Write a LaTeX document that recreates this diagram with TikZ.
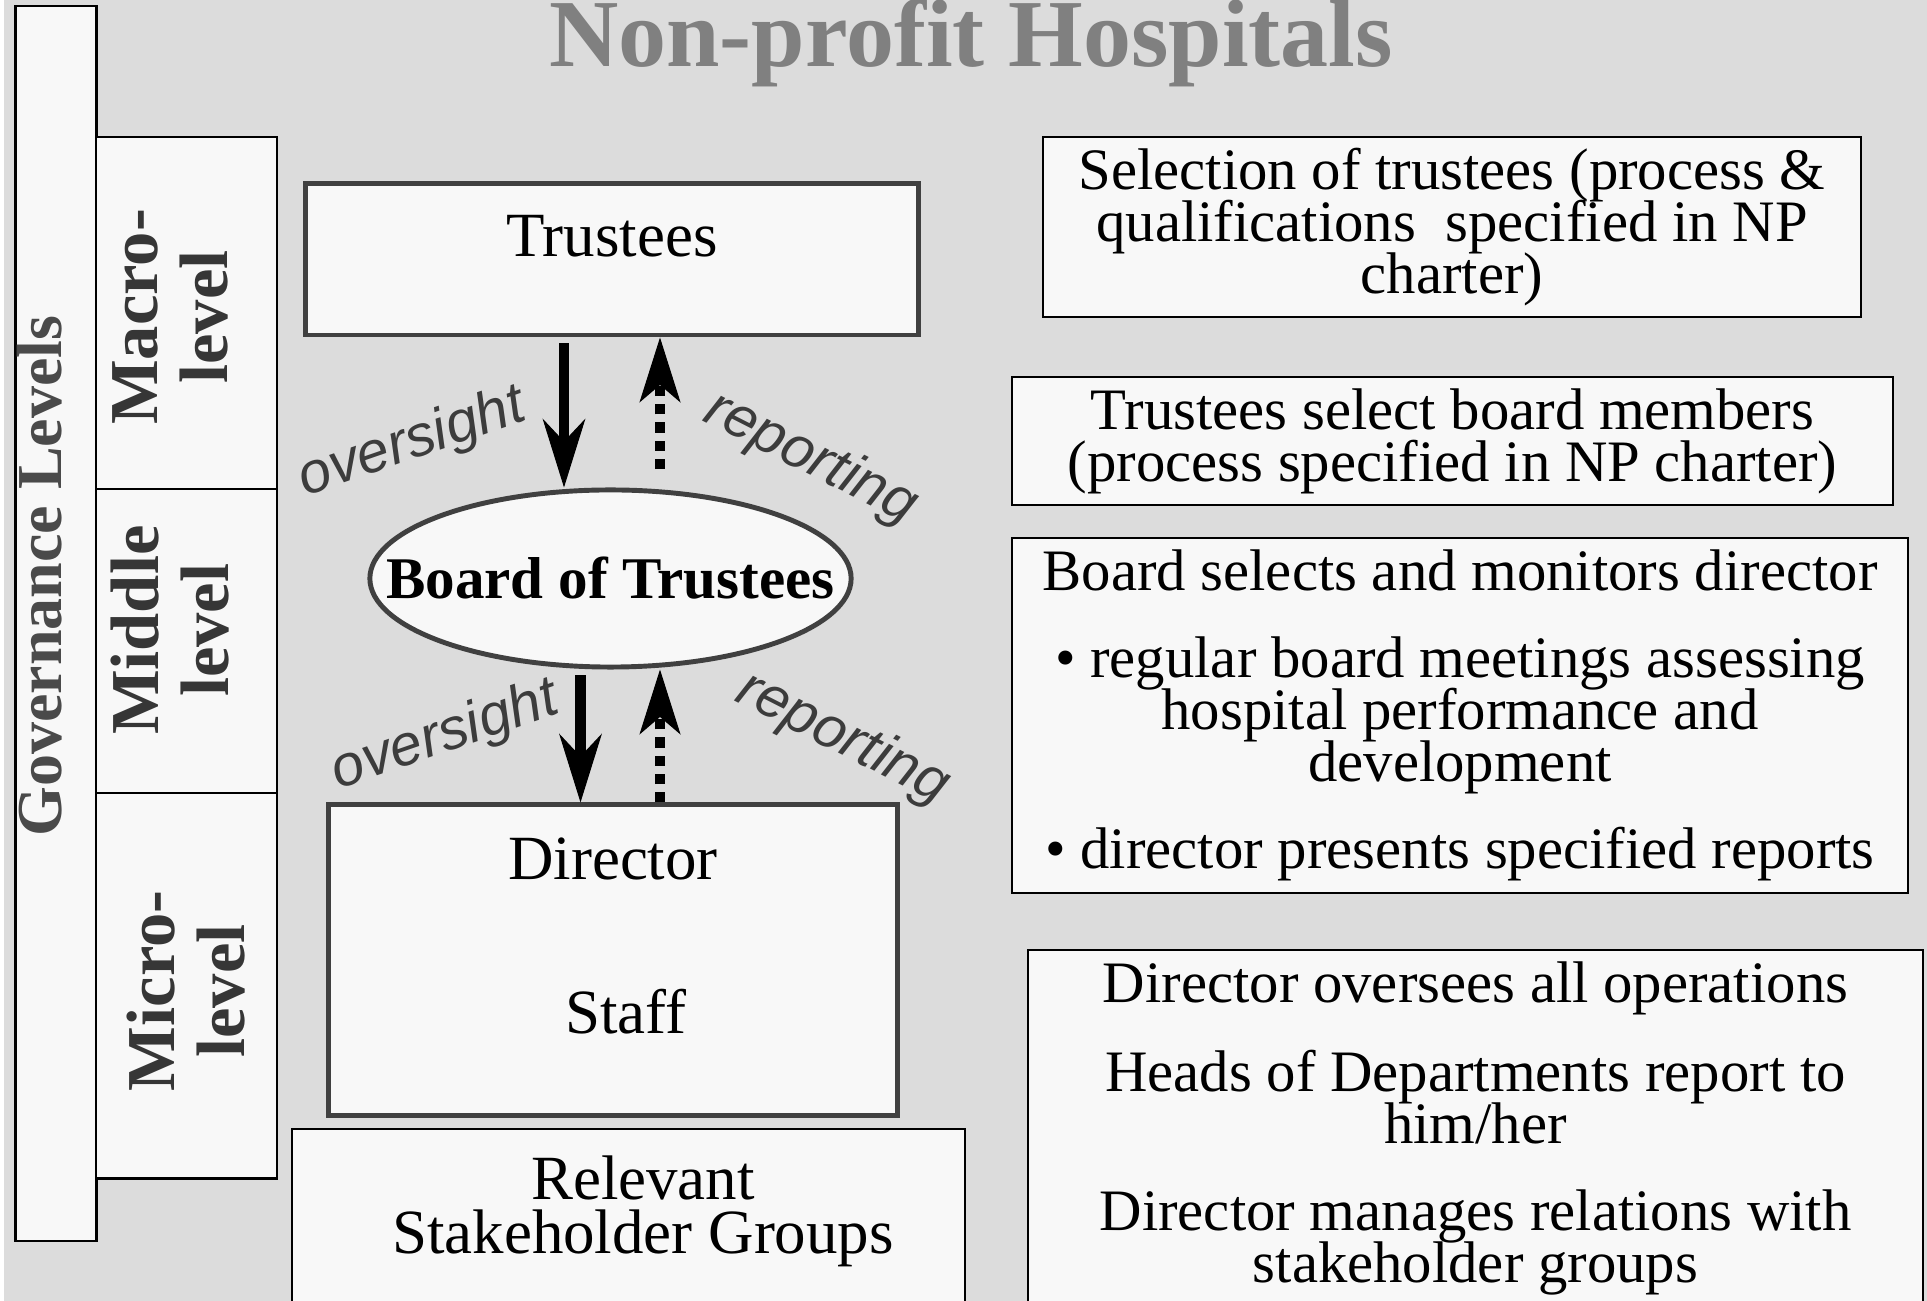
\documentclass[tikz,border=0pt]{standalone}
\usepackage{fontspec}
\setmainfont{Liberation Serif}
\setsansfont{Liberation Sans}
\usetikzlibrary{shapes.geometric, arrows.meta, calc, positioning}

\definecolor{bggray}{HTML}{DCDCDC}
\definecolor{boxfill}{HTML}{F8F8F8}
\definecolor{darkline}{HTML}{404040}
\definecolor{titlegray}{HTML}{808080}
\definecolor{flowgray}{HTML}{3C3C3C}
\definecolor{levelgray}{HTML}{363636}
\definecolor{govgray}{HTML}{4A4A4A}

\newcommand{\hosptitlefont}{\fontsize{27.3}{28}\selectfont\bfseries}
\newcommand{\infofont}{\fontsize{16.7}{14.8}\selectfont\lineskiplimit=-100pt}
\newcommand{\orgfont}{\fontsize{17.9}{15.4}\selectfont\lineskiplimit=-100pt}
\newcommand{\boardfont}{\fontsize{16.8}{16}\selectfont\bfseries}
\newcommand{\levelfont}{\fontsize{19.5}{19.9}\selectfont\bfseries\lineskiplimit=-100pt}
\newcommand{\govfont}{\fontsize{18.2}{19}\selectfont\bfseries}
\newcommand{\flowfont}{\fontsize{16.5}{17}\selectfont\sffamily\itshape}

\tikzstyle{overarrow} = [line width=3pt, -{Stealth[length=19.6pt, width=12.2pt, inset=6.5pt, line width=0.3pt]}]
\tikzstyle{reportarrow} = [line width=3pt, dash pattern=on 2.9pt off 2.3pt, -{Stealth[length=18.5pt, width=11.7pt, inset=5pt, line width=0.3pt]}]

\begin{document}
\begin{tikzpicture}[x=0.01cm, y=-0.01cm,
  levelbox/.style = {draw=black, line width=0.6pt, fill=boxfill, inner sep=0pt, outer sep=0pt},
  infobox/.style = {draw=black, line width=0.6pt, fill=boxfill, inner sep=0pt, align=center, font=\infofont},
  mainbox/.style = {draw=darkline, line width=1.4pt, fill=boxfill, inner sep=0pt, font=\orgfont},
  boardnode/.style = {ellipse, draw=darkline, line width=1.4pt, fill=boxfill, inner xsep=-0.55cm, inner ysep=0pt, minimum width=4.81cm, minimum height=1.77cm, font=\boardfont},
  leveltext/.style = {rotate=90, align=center, text=levelgray, font=\levelfont},
  flowlabel/.style = {anchor=base, text=flowgray, font=\flowfont}]
\fill[bggray] (0,0) rectangle (1927,1301);
\fill[white] (0,0) rectangle (4,1301);
\useasboundingbox (0,0) rectangle (1927,1301);

\node[anchor=base, text=titlegray, font=\hosptitlefont] (title) at (971,67) {Non-profit Hospitals};

% governance levels
\node[levelbox, minimum width=0.81cm, minimum height=12.34cm] (gov) at (56,623.5) {};
\node[rotate=90, anchor=base, text=govgray, font=\govfont] (govlabel) at (61,576) {Governance Levels};

\node[levelbox, minimum width=1.81cm, minimum height=3.52cm] (macro) at (186.5,313) {};
\node[levelbox, minimum width=1.81cm, minimum height=3.04cm] (middle) [below=0pt of macro] {};
\node[levelbox, minimum width=1.81cm, minimum height=3.85cm] (micro) [below=0pt of middle] {};
\node[leveltext] (macrolabel) at ($(macro.center)+(-16,4)$) {Macro-\\level};
\node[leveltext] (middlelabel) at ($(middle.center)+(-16,-11)$) {Middle\\level};
\node[leveltext] (microlabel) at ($(micro.center)+(0,5)$) {Micro-\\level};

% organisation
\node[mainbox, minimum width=6.12cm, minimum height=1.51cm, text height=0.73cm, text depth=0.78cm] (trustees) at (612,259.5) {Trustees};
\node[boardnode] (board) at (610.5,578.5) {Board of Trustees};
\node[mainbox, minimum width=5.68cm, minimum height=3.10cm, text height=0.75cm, text depth=2.35cm] (director) at (613,960) {Director};
\node[anchor=base, font=\orgfont] (staff) at ($(director.base)+(13,154)$) {Staff};
\node[levelbox, minimum width=6.73cm, minimum height=2.11cm] (stake) at (628.5,1234.5) {};
\node[align=center, inner sep=0pt, font=\orgfont] (staketext) at ($(stake.north)+(14.5,82)$) {Relevant\\Stakeholder Groups};

\coordinate (ov1) at ($(trustees.south)+(-48,0)$);
\coordinate (rp1) at ($(trustees.south)+(48,0)$);
\coordinate (ov2) at ($(board.south)+(-30,0)$);
\coordinate (rp2) at ($(director.north)+(47,0)$);
\draw[overarrow, shorten <=1.7pt] (ov1) -- (ov1 |- board.north);
\draw[reportarrow, shorten <=5.2pt] (rp1 |- board.north) -- (rp1);
\draw[overarrow, shorten <=1.7pt] (ov2) -- (ov2 |- director.north);
\draw[reportarrow] (rp2) -- (rp2 |- board.south);

\node[flowlabel, rotate=19] (over1) at (417,458) {oversight};
\node[flowlabel, rotate=-27] (report1) at (804,472) {reporting};
\node[flowlabel, rotate=19] (over2) at (450,751) {oversight};
\node[flowlabel, rotate=-27] (report2) at (836,752) {reporting};

% descriptions
\node[infobox, minimum width=8.18cm, minimum height=1.80cm] (selection) at (1452,227) {Selection of trustees (process \&\\qualifications~ specified in NP\\charter)};
\node[infobox, minimum width=8.81cm, minimum height=1.28cm] (selectboard) at (1452.5,441) {Trustees select board members\\(process specified in NP charter)};
\node[infobox, minimum width=8.96cm, minimum height=3.55cm] (monitor) at (1460,715.5) {Board selects and monitors director\\[10pt]\textbullet{} regular board meetings assessing\\hospital performance and\\development\\[10pt]\textbullet{} director presents specified reports};
\node[infobox, minimum width=8.95cm, minimum height=3.57cm] (operations) at (1475.5,1128.5) {Director oversees all operations\\[10.5pt]Heads of Departments report to\\him/her\\[10pt]Director manages relations with\\stakeholder groups};
\end{tikzpicture}
\end{document}
